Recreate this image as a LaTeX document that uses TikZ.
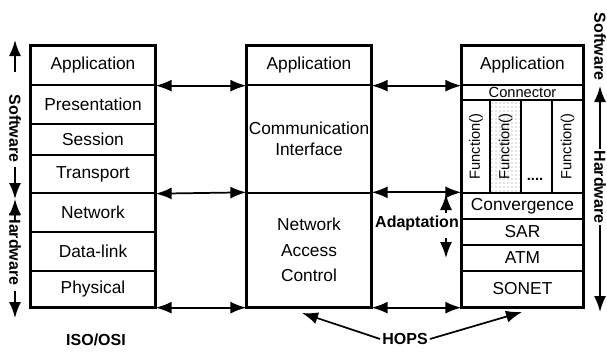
\documentclass[tikz,border=0pt]{standalone}
\usepackage{fontspec}
\setmainfont{Liberation Sans}
\usetikzlibrary{arrows.meta,patterns}
\tikzset{
  layer/.style 2 args={draw,line width=1pt,minimum width=#1*0.75pt,minimum height=#2*0.75pt,
    inner sep=0pt,align=center,font=\fontsize{13}{14}\selectfont},
  fcol/.style 2 args={draw,line width=1pt,rotate=90,minimum width=#2*0.75pt,minimum height=#1*0.75pt,
    inner sep=0pt,font=\fontsize{11}{12}\selectfont},
  outerbox/.style={draw,line width=2.2pt},
  bigtip/.tip={Latex[length=12pt,width=9pt]},
  hop/.style={bigtip-bigtip,line width=1.3pt},
  sarrow/.style={-bigtip,line width=1.3pt},
  label/.style={font=\fontsize{12}{13}\selectfont\bfseries,inner sep=1.5pt},
  sidelabel/.style={label,rotate=-90,inner sep=3pt}
}
\begin{document}
\begin{tikzpicture}[x=0.75pt,y=0.75pt,yscale=-1,xscale=1]
\useasboundingbox (0,0) rectangle (607,351);

% ISO/OSI stack
\node[layer={124}{39}] (lapp)  at (93,65.5)  {Application};
\node[layer={124}{39}] (lpres) at (93,104.5) {Presentation};
\node[layer={124}{31}] (lsess) at (93,139.5) {Session};
\node[layer={124}{38}] (ltran) at (93,174)   {Transport};
\node[layer={124}{39}] (lnet)  at (93,212.5) {Network};
\node[layer={124}{39}] (ldl)   at (93,251.5) {Data-link};
\node[layer={124}{36}] (lphys) at (93,289)   {Physical};
\draw[outerbox] (lapp.north west) rectangle (lphys.south east);

% middle stack
\node[layer={124}{39}]  (mapp)  at (309,65.5) {Application};
\node[layer={124}{108}] (mcomm) at (309,139)  {Communication\\[2pt]Interface};
\node[layer={124}{114}] (mnac)  at (309,250)  {Network\\[5pt]Access\\[5pt]Control};
\draw[outerbox] (mapp.north west) rectangle (mnac.south east);

% right stack
\node[layer={121}{39}] (rapp)  at (522.5,65.5) {Application};
\node[layer={121}{15},font=\fontsize{11}{12}\selectfont] (rconn) at (522.5,92.5) {Connector};
\node[fcol={28}{93}] (rf1) at (476,146.5) {Function()};
\node[fcol={31}{93},pattern=dots,pattern color=gray] (rf2) at (505.5,146.5) {Function()};
\node[fcol={31}{93}] (rf3) at (536.5,146.5) {};
\node[fcol={31}{93}] (rf4) at (567.5,146.5) {Function()};
\node[font=\fontsize{11}{12}\selectfont\bfseries,inner sep=0pt] (rdots) at (535,179) {....};
\node[layer={121}{26}] (rconv)  at (522.5,206) {Convergence};
\node[layer={121}{26}] (rsar)   at (522.5,232) {SAR};
\node[layer={121}{26}] (ratm)   at (522.5,258) {ATM};
\node[layer={121}{36}] (rsonet) at (522.5,289) {SONET};
\draw[outerbox] (rapp.north west) rectangle (rsonet.south east);

% peer arrows
\draw[hop] (lapp.south east) -- (mapp.south west);
\draw[hop] (ltran.south east) -- (mnac.north west);
\draw[hop] (lphys.south east) -- (mnac.south west);
\draw[hop] (mapp.south east) -- (rapp.south west);
\draw[hop] (mnac.north east) -- (rconv.north west);
\draw[hop] (mnac.south east) -- (rsonet.south west);

% adaptation
\node[label] (adapt) at (417,223) {Adaptation};
\coordinate (adtop) at (446,194);
\coordinate (adbot) at (446,258);
\draw[sarrow] (adtop |- adapt.north) -- (adtop);
\draw[sarrow,shorten <=4pt] (adbot |- adapt.south) -- (adbot);

% software / hardware, left
\node[sidelabel] (lsw) at (15,128.5) {Software};
\node[sidelabel,inner sep=1pt] (lhw) at (15,249) {Hardware};
\coordinate (lswtop) at (15,40);
\coordinate (lmid) at (15,199);
\coordinate (lhwbot) at (15,318);
\draw[sarrow,shorten <=14pt] (lsw.west) -- (lswtop);
\draw[sarrow] (lsw.east) -- (lmid);
\draw[sarrow] (lhw.west) -- (lmid);
\draw[sarrow,shorten <=3pt] (lhw.east) -- (lhwbot);

% software / hardware, right
\node[sidelabel,inner sep=1pt] (rsw) at (600,46.5) {Software};
\node[sidelabel,inner sep=1pt] (rhw) at (600,187) {Hardware};
\coordinate (rswbot) at (600,86);
\coordinate (rhwbot) at (600,312);
\draw[sarrow] (rhw.west) -- (rswbot);
\draw[sarrow] (rhw.east) -- (rhwbot);

% captions
\node[label] (iso) at (96,340) {ISO/OSI};
\node[label] (hops) at (405,339) {HOPS};
\coordinate (hopsl) at (302,313);
\coordinate (hopsr) at (522,312);
\draw[sarrow] (hops.west) -- (hopsl);
\draw[sarrow] (hops.east) -- (hopsr);

\end{tikzpicture}
\end{document}
